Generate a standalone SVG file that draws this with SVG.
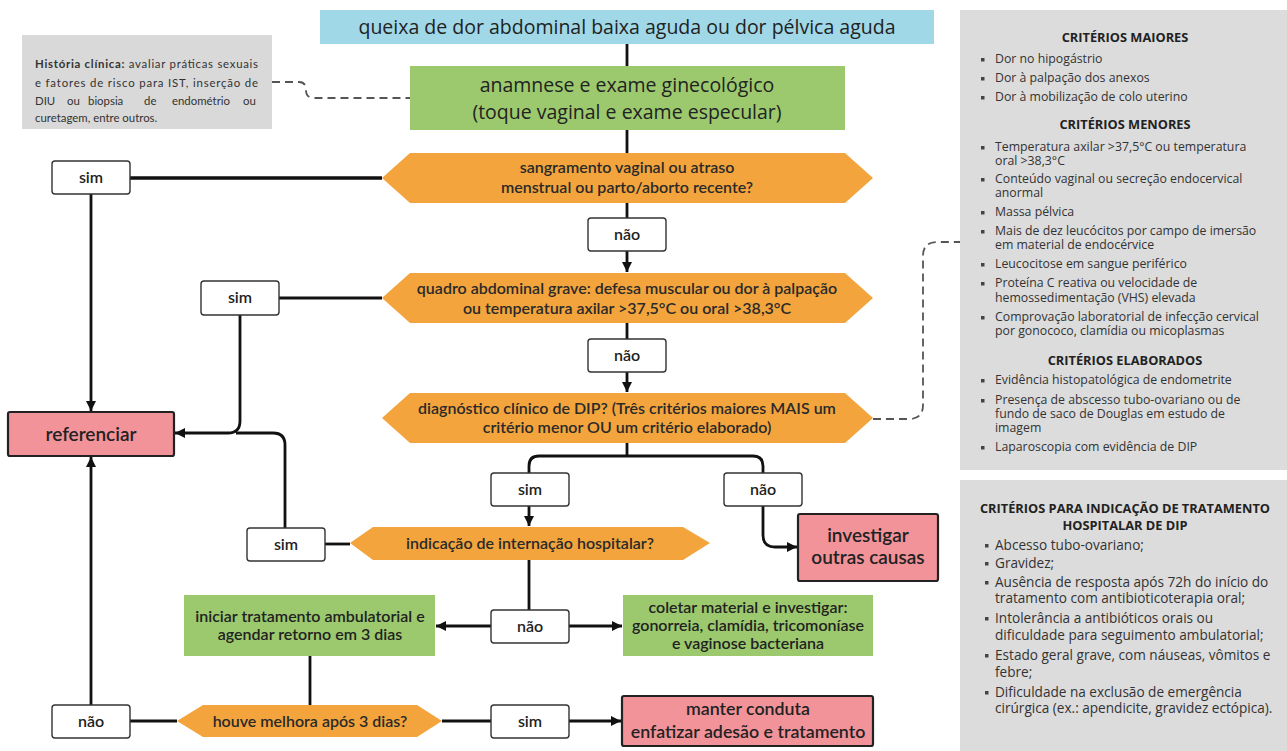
<svg xmlns="http://www.w3.org/2000/svg" width="1287" height="751" viewBox="0 0 1287 751">
  <defs>
    <marker id="arrow" markerUnits="userSpaceOnUse" markerWidth="12" markerHeight="12" refX="10" refY="5" orient="auto">
      <path d="M0,0 L10,5 L0,10 Z" fill="#111"/>
    </marker>
    <style>
      .conn { fill: none; stroke: #111; stroke-width: 2.8; }
      .dash { fill: none; stroke: #555; stroke-width: 1.8; stroke-dasharray: 8 5; }
      .lbl rect { fill: #fff; stroke: #333; stroke-width: 1.4; }
      .lbl text { font-family: Lato, "Liberation Sans", sans-serif; font-weight: 600; font-size: 16px; fill: #222; text-anchor: middle; }
      .dec path { fill: #f3a43c; }
      .dec text { font-family: Lato, "Liberation Sans", sans-serif; font-weight: 600; font-size: 16px; fill: #2a2a2a; text-anchor: middle; }
      .grn rect { fill: #9cc96d; }
      .grn text { font-family: Lato, "Liberation Sans", sans-serif; font-weight: 600; font-size: 16px; fill: #222; text-anchor: middle; }
      .pink rect { fill: #f2939a; stroke: #222; stroke-width: 2.2; }
      .pink text { font-family: Lato, "Liberation Sans", sans-serif; font-weight: 600; fill: #222; text-anchor: middle; }
      .os { font-family: "Open Sans", "Liberation Sans", sans-serif; fill: #222; text-anchor: middle; }
      .panel { fill: #dcdcdc; }
      .ph { font-family: "Open Sans", "Liberation Sans", sans-serif; font-weight: 700; font-size: 12.8px; fill: #222; text-anchor: middle; }
      .pt { font-family: "Open Sans", "Liberation Sans", sans-serif; font-size: 12.3px; fill: #333; }
      .pt2 { font-family: "Open Sans", "Liberation Sans", sans-serif; font-size: 13.6px; fill: #333; }
      .bul { fill: #444; }
      .note { font-family: Lato, "Liberation Sans", sans-serif; font-size: 11.4px; fill: #333; }
    </style>
  </defs>

  <rect width="1287" height="751" fill="#fff"/>

  <!-- connectors -->
  <g id="connectors">
    <path class="conn" d="M627,44 V66"/>
    <path class="conn" d="M627,130 V153"/>
    <path class="conn" d="M627,203 V218"/>
    <path class="conn" d="M627,251 V272" marker-end="url(#arrow)"/>
    <path class="conn" d="M627,323 V339"/>
    <path class="conn" d="M627,372 V392" marker-end="url(#arrow)"/>
    <path class="conn" d="M382,178 H130" style="stroke-width:3.4"/>
    <path class="conn" d="M91,194 V411" marker-end="url(#arrow)"/>
    <path class="conn" d="M382,298 H279"/>
    <path class="conn" d="M240,315 V421 Q240,433 228,433 H175" marker-end="url(#arrow)"/>
    <path class="conn" d="M285,528 V445 Q285,433 273,433 H236"/>
    <path class="conn" d="M350,544 H325"/>
    <path class="conn" d="M627,443 V456"/>
    <path class="conn" d="M529,473 V466 Q529,456 539,456 H753 Q763,456 763,466 V473"/>
    <path class="conn" d="M529,506 V526" marker-end="url(#arrow)"/>
    <path class="conn" d="M763,506 V535 Q763,547 775,547 H797" marker-end="url(#arrow)"/>
    <path class="conn" d="M529,560 V610"/>
    <path class="conn" d="M491,626 H436" marker-end="url(#arrow)"/>
    <path class="conn" d="M569,626 H622" marker-end="url(#arrow)"/>
    <path class="conn" d="M310,656 V705"/>
    <path class="conn" d="M177,721 H130"/>
    <path class="conn" d="M91,705 V457" marker-end="url(#arrow)"/>
    <path class="conn" d="M442,721 H491"/>
    <path class="conn" d="M569,721 H621" marker-end="url(#arrow)"/>
    <path class="dash" d="M272,82 H299 Q306,82 306,90 Q306,98 314,98 H410"/>
    <path class="dash" d="M873,419 H909 Q923,419 923,405 V256 Q923,242 937,242 H960"/>
  </g>

  <!-- start -->
  <g id="queixa">
    <rect x="320" y="10" width="614" height="34" fill="#a0d8e7"/>
    <text class="os" x="627" y="34" font-size="19.5">queixa de dor abdominal baixa aguda ou dor pélvica aguda</text>
  </g>

  <g id="historia">
    <rect x="22" y="35" width="250" height="94" fill="#d9d9d9"/>
    <text class="note" x="35" y="68" textLength="223" lengthAdjust="spacing"><tspan font-weight="700">História clínica:</tspan> avaliar práticas sexuais</text>
    <text class="note" x="35" y="87" textLength="223" lengthAdjust="spacing">e fatores de risco para IST, inserção de</text>
    <text class="note" y="105"><tspan x="35">DIU</tspan><tspan x="67">ou</tspan><tspan x="88">biopsia</tspan><tspan x="144">de</tspan><tspan x="172">endométrio</tspan><tspan x="243">ou</tspan></text>
    <text class="note" x="35" y="122">curetagem, entre outros.</text>
  </g>

  <g id="anamnese">
    <rect x="410" y="66" width="435" height="64" fill="#9cc96d"/>
    <text class="os" x="627" y="92" font-size="19.5">anamnese e exame ginecológico</text>
    <text class="os" x="627" y="119" font-size="19.5">(toque vaginal e exame especular)</text>
  </g>

  <!-- decisions -->
  <g id="sangramento" class="dec">
    <path d="M382,178 L410,153 H845 L873,178 L845,203 H410 Z"/>
    <text x="627" y="173">sangramento vaginal ou atraso</text>
    <text x="627" y="193">menstrual ou parto/aborto recente?</text>
  </g>

  <g id="quadro-grave" class="dec">
    <path d="M382,298 L410,273 H845 L873,298 L845,323 H410 Z"/>
    <text x="627" y="294">quadro abdominal grave: defesa muscular ou dor à palpação</text>
    <text x="627" y="314">ou temperatura axilar &gt;37,5°C ou oral &gt;38,3°C</text>
  </g>

  <g id="diagnostico" class="dec">
    <path d="M382,418 L410,393 H845 L873,418 L845,443 H410 Z"/>
    <text x="627" y="414">diagnóstico clínico de DIP? (Três critérios maiores MAIS um</text>
    <text x="627" y="433">critério menor OU um critério elaborado)</text>
  </g>

  <g id="internacao" class="dec">
    <path d="M350,543 L373,527 H683 L710,543 L683,560 H373 Z"/>
    <text x="530" y="549">indicação de internação hospitalar?</text>
  </g>

  <g id="melhora" class="dec">
    <path d="M177,721 L203,705 H417 L442,721 L417,737 H203 Z"/>
    <text x="310" y="727">houve melhora após 3 dias?</text>
  </g>

  <!-- yes / no labels -->
  <g id="sim-1" class="lbl"><rect x="52" y="161" width="78" height="33" rx="3"/><text x="91" y="183">sim</text></g>
  <g id="nao-1" class="lbl"><rect x="588" y="218" width="78" height="33" rx="3"/><text x="627" y="240">não</text></g>
  <g id="sim-2" class="lbl"><rect x="201" y="281" width="78" height="34" rx="3"/><text x="240" y="303">sim</text></g>
  <g id="nao-2" class="lbl"><rect x="588" y="339" width="78" height="33" rx="3"/><text x="627" y="361">não</text></g>
  <g id="sim-3" class="lbl"><rect x="491" y="473" width="78" height="33" rx="3"/><text x="530" y="495">sim</text></g>
  <g id="nao-3" class="lbl"><rect x="724" y="473" width="78" height="33" rx="3"/><text x="763" y="495">não</text></g>
  <g id="sim-4" class="lbl"><rect x="247" y="528" width="78" height="33" rx="3"/><text x="286" y="550">sim</text></g>
  <g id="nao-4" class="lbl"><rect x="491" y="610" width="78" height="33" rx="3"/><text x="530" y="632">não</text></g>
  <g id="nao-5" class="lbl"><rect x="52" y="705" width="78" height="33" rx="3"/><text x="91" y="727">não</text></g>
  <g id="sim-5" class="lbl"><rect x="491" y="705" width="78" height="33" rx="3"/><text x="530" y="727">sim</text></g>

  <!-- outcomes -->
  <g id="referenciar" class="pink">
    <rect x="8" y="412" width="166" height="44" rx="2"/>
    <text x="91" y="441" font-size="19">referenciar</text>
  </g>

  <g id="investigar" class="pink">
    <rect x="798" y="514" width="140" height="67" rx="2"/>
    <text x="868" y="542" font-size="19">investigar</text>
    <text x="868" y="564" font-size="19">outras causas</text>
  </g>

  <g id="ambulatorial" class="grn">
    <rect x="184" y="595" width="251" height="61"/>
    <text x="310" y="622">iniciar tratamento ambulatorial e</text>
    <text x="310" y="640">agendar retorno em 3 dias</text>
  </g>

  <g id="coletar" class="grn">
    <rect x="623" y="595" width="250" height="61"/>
    <text x="748" y="613">coletar material e investigar:</text>
    <text x="748" y="631">gonorreia, clamídia, tricomoníase</text>
    <text x="748" y="649">e vaginose bacteriana</text>
  </g>

  <g id="manter" class="pink">
    <rect x="622" y="696" width="251" height="50" rx="2"/>
    <text x="748" y="715" font-size="17.8">manter conduta</text>
    <text x="748" y="738" font-size="17.8">enfatizar adesão e tratamento</text>
  </g>

  <!-- criteria panel: each bullet item is one text block -->
  <g id="criterios-dip">
    <rect class="panel" x="960" y="10" width="327" height="460"/>
    <text class="ph" x="1125" y="42">CRITÉRIOS MAIORES</text>
    <rect class="bul" x="981" y="58" width="3.5" height="3.5"/>
    <text class="pt" x="995" y="63">Dor no hipogástrio</text>
    <rect class="bul" x="981" y="77" width="3.5" height="3.5"/>
    <text class="pt" x="995" y="82">Dor à palpação dos anexos</text>
    <rect class="bul" x="981" y="96" width="3.5" height="3.5"/>
    <text class="pt" x="995" y="101">Dor à mobilização de colo uterino</text>

    <text class="ph" x="1125" y="129">CRITÉRIOS MENORES</text>
    <rect class="bul" x="981" y="146" width="3.5" height="3.5"/>
    <text class="pt" x="995" y="151">Temperatura axilar &gt;37,5°C ou temperatura<tspan x="995" dy="14">oral &gt;38,3°C</tspan></text>
    <rect class="bul" x="981" y="178" width="3.5" height="3.5"/>
    <text class="pt" x="995" y="183">Conteúdo vaginal ou secreção endocervical<tspan x="995" dy="14">anormal</tspan></text>
    <rect class="bul" x="981" y="211" width="3.5" height="3.5"/>
    <text class="pt" x="995" y="216">Massa pélvica</text>
    <rect class="bul" x="981" y="230" width="3.5" height="3.5"/>
    <text class="pt" x="995" y="235">Mais de dez leucócitos por campo de imersão<tspan x="995" dy="14">em material de endocérvice</tspan></text>
    <rect class="bul" x="981" y="263" width="3.5" height="3.5"/>
    <text class="pt" x="995" y="268">Leucocitose em sangue periférico</text>
    <rect class="bul" x="981" y="282" width="3.5" height="3.5"/>
    <text class="pt" x="995" y="287">Proteína C reativa ou velocidade de<tspan x="995" dy="15">hemossedimentação (VHS) elevada</tspan></text>
    <rect class="bul" x="981" y="316" width="3.5" height="3.5"/>
    <text class="pt" x="995" y="321">Comprovação laboratorial de infecção cervical<tspan x="995" dy="14">por gonococo, clamídia ou micoplasmas</tspan></text>

    <text class="ph" x="1125" y="365">CRITÉRIOS ELABORADOS</text>
    <rect class="bul" x="981" y="379" width="3.5" height="3.5"/>
    <text class="pt" x="995" y="384">Evidência histopatológica de endometrite</text>
    <rect class="bul" x="981" y="399" width="3.5" height="3.5"/>
    <text class="pt" x="995" y="404">Presença de abscesso tubo-ovariano ou de<tspan x="995" dy="14">fundo de saco de Douglas em estudo de</tspan><tspan x="995" dy="14">imagem</tspan></text>
    <rect class="bul" x="981" y="446" width="3.5" height="3.5"/>
    <text class="pt" x="995" y="451">Laparoscopia com evidência de DIP</text>
  </g>

  <!-- hospital treatment panel -->
  <g id="criterios-hospitalar">
    <rect class="panel" x="960" y="480" width="327" height="271"/>
    <text class="ph" x="1125" y="513">CRITÉRIOS PARA INDICAÇÃO DE TRATAMENTO<tspan x="1125" dy="17">HOSPITALAR DE DIP</tspan></text>
    <rect class="bul" x="985" y="544" width="3.5" height="3.5"/>
    <text class="pt2" x="995" y="550">Abcesso tubo-ovariano;</text>
    <rect class="bul" x="985" y="562" width="3.5" height="3.5"/>
    <text class="pt2" x="995" y="568">Gravidez;</text>
    <rect class="bul" x="985" y="581" width="3.5" height="3.5"/>
    <text class="pt2" x="995" y="587">Ausência de resposta após 72h do início do<tspan x="995" dy="16">tratamento com antibioticoterapia oral;</tspan></text>
    <rect class="bul" x="985" y="617" width="3.5" height="3.5"/>
    <text class="pt2" x="995" y="623">Intolerância a antibióticos orais ou<tspan x="995" dy="17">dificuldade para seguimento ambulatorial;</tspan></text>
    <rect class="bul" x="985" y="654" width="3.5" height="3.5"/>
    <text class="pt2" x="995" y="660">Estado geral grave, com náuseas, vômitos e<tspan x="995" dy="17">febre;</tspan></text>
    <rect class="bul" x="985" y="691" width="3.5" height="3.5"/>
    <text class="pt2" x="995" y="697">Dificuldade na exclusão de emergência<tspan x="995" dy="16">cirúrgica (ex.: apendicite, gravidez ectópica).</tspan></text>
  </g>
</svg>
